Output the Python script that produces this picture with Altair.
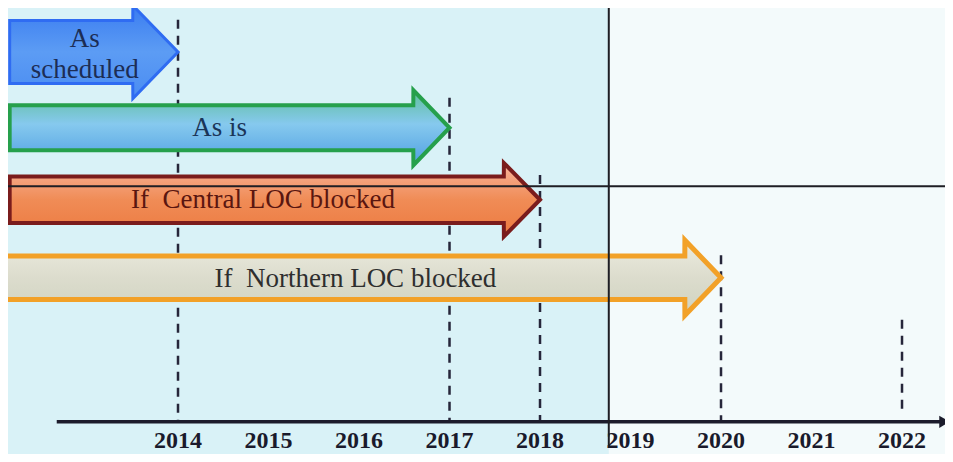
import altair as alt
import pandas as pd

# ---- data (years on x, row index on y) ----
arrow_names = ["As scheduled", "As is", "If  Central LOC blocked", "If  Northern LOC blocked"]
arrow_text = ["As\nscheduled", "As is", "If\u00a0 Central LOC blocked", "If\u00a0 Northern LOC blocked"]
arrow_start = [2012.14, 2012.14, 2012.14, 2012.09]
arrow_head_start = [2013.50, 2016.60, 2017.60, 2019.60]
arrow_end = [2014, 2017, 2018, 2020]
arrow_row = [0.0, 1.01, 1.97, 3.01]
body_half = [0.42, 0.30, 0.31, 0.29]
head_half = [0.62, 0.50, 0.49, 0.50]
label_year = [2012.97, 2014.46, 2014.94, 2015.96]
label_row = [-0.17, 1.01, 1.97, 3.02]

guide_years = [2014, 2017, 2018, 2020, 2022]
guide_top = [-0.43, 0.61, 1.64, 2.71, 3.57]
guide_bottom = [4.93, 4.93, 4.93, 4.93, 4.77]

tick_years = [2014, 2015, 2016, 2017, 2018, 2019, 2020, 2021, 2022]
tick_labels = ["2014", "2015", "2016", "2017", "2018", "2019", "2020", "2021", "2022"]

axis_row = 4.93
axis_from = 2012.66
axis_to = 2022.47
tick_row = 5.18
frame_year = 2018.76
frame_row = 1.79

# ---- styles ----
X_DOMAIN = [2012.1215, 2022.475]
Y_DOMAIN = [-0.5867, 5.253]
W, H = 937, 438

arrow_fill = [
    [("#3a7cf0", 0), ("#5c9cf4", 0.5), ("#4a8cf2", 1)],
    [("#5fbf9a", 0), ("#86c9ee", 0.45), ("#4f9fe2", 1)],
    [("#f8b49c", 0), ("#f08c56", 0.5), ("#ec7a40", 1)],
    [("#ececdf", 0), ("#dcdccd", 0.5), ("#cfd3c0", 1)],
]
arrow_stroke = ["#2f6cf2", "#26a04c", "#7a1c1c", "#f2a128"]
arrow_stroke_w = [3, 4, 4, 5]
text_color = ["#1c2d55", "#1b3558", "#5a1610", "#2e2e2e"]

xs = alt.Scale(domain=X_DOMAIN, nice=False, zero=False)
ys = alt.Scale(domain=Y_DOMAIN, nice=False, zero=False, reverse=True)


def X(f):
    return alt.X(f, type="quantitative", scale=xs, axis=None)


def Y(f):
    return alt.Y(f, type="quantitative", scale=ys, axis=None)


# background panes
bg = pd.DataFrame({
    "x": [X_DOMAIN[0], frame_year],
    "x2": [frame_year, X_DOMAIN[1]],
    "y": [Y_DOMAIN[0]] * 2,
    "y2": [Y_DOMAIN[1] + 0.2] * 2,
    "c": ["#d9f2f7", "#f3fafb"],
})
bg_layer = alt.Chart(bg).mark_rect().encode(
    x=X("x"), x2="x2", y=Y("y"), y2="y2", color=alt.Color("c:N", scale=None)
)

# dashed guides
guides = pd.DataFrame({"year": guide_years, "top": guide_top, "bottom": guide_bottom})
guide_layer = alt.Chart(guides).mark_rule(
    strokeDash=[9, 7], strokeWidth=2.5, color="#26263a"
).encode(x=X("year"), y=Y("top"), y2="bottom")

# axis line + arrowhead
axis_df = pd.DataFrame({"x": [axis_from], "x2": [axis_to], "y": [axis_row]})
axis_layer = alt.Chart(axis_df).mark_rule(strokeWidth=3.5, color="#1c1c2c").encode(
    x=X("x"), x2="x2", y=Y("y")
)
axis_head = alt.Chart(axis_df).mark_point(
    shape="triangle-right", filled=True, size=150, color="#1c1c2c", opacity=1
).encode(x=X("x2"), y=Y("y"))

# year labels
ticks = pd.DataFrame({"year": tick_years, "label": tick_labels, "row": [tick_row] * len(tick_years)})
tick_layer = alt.Chart(ticks).mark_text(
    font="Liberation Serif", fontSize=24, fontWeight="bold", color="#1a1a2c", baseline="middle"
).encode(x=X("year"), y=Y("row"), text="label:N")

# arrows as polygons (area from start to tip)
arrow_layers = []
for i in range(len(arrow_names)):
    c, bh, hh = arrow_row[i], body_half[i], head_half[i]
    pts = pd.DataFrame({
        "x": [arrow_start[i], arrow_head_start[i], arrow_head_start[i] + 0.001, arrow_end[i]],
        "top": [c - bh, c - bh, c - hh, c],
        "bottom": [c + bh, c + bh, c + hh, c],
    })
    grad = alt.Gradient(
        gradient="linear",
        stops=[alt.GradientStop(color=col, offset=o) for col, o in arrow_fill[i]],
        x1=0, x2=0, y1=0, y2=1,
    )
    arrow_layers.append(
        alt.Chart(pts).mark_area(
            fill=grad, stroke=arrow_stroke[i], strokeWidth=arrow_stroke_w[i],
            strokeJoin="miter", opacity=1, interpolate="linear",
        ).encode(x=X("x"), y=Y("top"), y2="bottom")
    )

labels = pd.DataFrame({
    "x": label_year, "row": label_row, "text": arrow_text, "tc": text_color,
})
label_layer = alt.Chart(labels).mark_text(
    font="Liberation Serif", fontSize=27, lineBreak="\n", lineHeight=31, baseline="middle"
).encode(x=X("x"), y=Y("row"), text="text:N", color=alt.Color("tc:N", scale=None))

# frame lines in front of the slide
fv = pd.DataFrame({"x": [frame_year]})
fh = pd.DataFrame({"y": [frame_row]})
frame_v = alt.Chart(fv).mark_rule(color="#1e1e24", strokeWidth=2).encode(x=X("x"))
frame_h = alt.Chart(fh).mark_rule(color="#1e1e24", strokeWidth=2).encode(y=Y("y"))

chart = alt.layer(
    bg_layer, guide_layer, axis_layer, axis_head, tick_layer,
    *arrow_layers, label_layer, frame_v, frame_h,
).properties(
    width=W, height=H,
    autosize=alt.AutoSizeParams(type="none"),
    padding={"left": 0, "top": 0, "right": 0, "bottom": 8},
    background="#d9f2f7",
).configure_view(stroke=None)

chart.save("out.html", embed_options={"renderer": "svg", "actions": False})
